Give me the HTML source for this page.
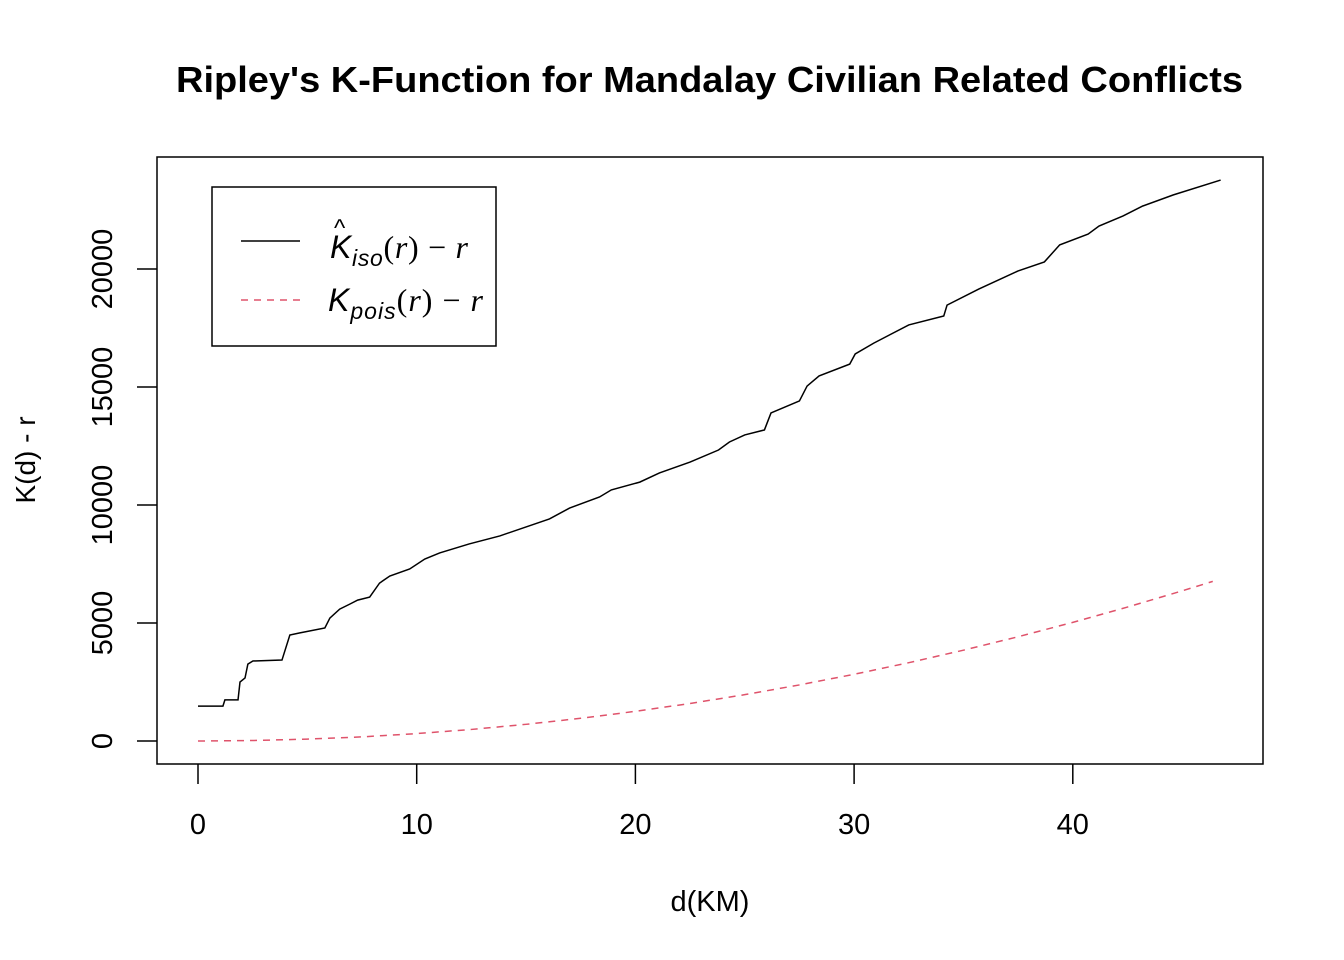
<!DOCTYPE html>
<html><head><meta charset="utf-8"><style>
body{margin:0;background:#fff;}
svg{display:block;font-family:"Liberation Sans",Arial,sans-serif;}
</style></head><body>
<svg id="chart" width="1344" height="960" viewBox="0 0 1344 960">
<text x="176" y="92" font-size="36" font-weight="bold" textLength="1067" lengthAdjust="spacingAndGlyphs">Ripley's K-Function for Mandalay Civilian Related Conflicts</text>
<rect x="157" y="157" width="1106" height="607" fill="none" stroke="#000" stroke-width="1.5"/>
<g id="xaxis"></g>
<g id="yaxis"></g>
<text x="710" y="911" text-anchor="middle" font-size="29">d(KM)</text>
<text transform="translate(35,460) rotate(-90)" text-anchor="middle" font-size="28">K(d) - r</text>
<g id="series"></g>
<g>
<rect x="212" y="187" width="284" height="159" fill="#fff" stroke="#000" stroke-width="1.5"/>
<line x1="241" y1="241" x2="300" y2="241" stroke="#000" stroke-width="1.5"/>
<line x1="241" y1="300" x2="300" y2="300" stroke="#DF536B" stroke-width="1.5" stroke-dasharray="7,6"/>
<text x="330" y="258" font-size="32" font-family="Liberation Serif,serif" textLength="138" lengthAdjust="spacing"><tspan font-style="italic" font-family="Liberation Sans,sans-serif">K</tspan><tspan font-size="23" dy="8" font-style="italic" font-family="Liberation Sans,sans-serif">iso</tspan><tspan dy="-8">(</tspan><tspan font-style="italic">r</tspan><tspan>) − </tspan><tspan font-style="italic">r</tspan></text>
<text x="334" y="236" font-size="24">^</text>
<text x="328" y="311" font-size="32" font-family="Liberation Serif,serif" textLength="155" lengthAdjust="spacing"><tspan font-style="italic" font-family="Liberation Sans,sans-serif">K</tspan><tspan font-size="23" dy="8" font-style="italic" font-family="Liberation Sans,sans-serif">pois</tspan><tspan dy="-8">(</tspan><tspan font-style="italic">r</tspan><tspan>) − </tspan><tspan font-style="italic">r</tspan></text>
</g>
</svg>
<script>
const xTicks=[0,10,20,30,40];
const yTicks=[0,5000,10000,15000,20000];
const isoR=[0,1.14,1.23,1.83,1.92,2.15,2.28,2.51,3.84,4.2,4.66,5.8,6.03,6.48,6.94,7.3,7.85,8.3,8.77,9.68,10.37,11.05,12.4,13.8,16.07,16.99,18.36,18.9,20.2,21.1,22.5,23.8,24.3,25.0,25.9,26.2,27.5,27.85,28.4,29.8,30.05,30.9,32.5,34.1,34.25,35.7,37.5,38.7,39.4,40.7,41.2,42.3,43.2,44.6,46.76];
const isoK=[1480,1480,1740,1740,2500,2670,3260,3390,3430,4490,4580,4790,5210,5590,5800,5970,6100,6690,6990,7290,7710,7970,8350,8690,9410,9870,10340,10640,10970,11360,11820,12330,12670,12970,13180,13900,14410,15040,15470,15970,16400,16860,17630,18010,18470,19150,19920,20300,21020,21480,21820,22250,22670,23140,23770];
const poisR=[0,2.5,5,7.5,10,12.5,15,17.5,20,22.5,25,27.5,30,32.5,35,37.5,40,42.5,45,46.4];
const poisK=[0,20,80,175,314,490,707,962,1257,1590,1963,2376,2827,3318,3848,4418,5027,5675,6362,6764];
const NS='http://www.w3.org/2000/svg';
const sx=v=>198+v*21.87;
const sy=v=>741-v*0.0236;
function mk(t,a,p){const e=document.createElementNS(NS,t);for(const k in a)e.setAttribute(k,a[k]);p.appendChild(e);return e;}
const xa=document.getElementById('xaxis');
xTicks.forEach(v=>{
 const l=mk('line',{x1:sx(v),x2:sx(v),y1:764,y2:784,stroke:'#000','stroke-width':1.5},xa);
 
 
 const t=mk('text',{x:sx(v),y:834,'text-anchor':'middle','font-size':29},xa);
 t.textContent=v;
 
 
});
const ya=document.getElementById('yaxis');
yTicks.forEach(v=>{
 const l=mk('line',{x1:137,x2:157,y1:sy(v),y2:sy(v),stroke:'#000','stroke-width':1.5},ya);
 
 
 const t=mk('text',{transform:`translate(112,${sy(v)}) rotate(-90)`,'text-anchor':'middle','font-size':29},ya);
 t.textContent=v;
 
 
});
const s=document.getElementById('series');
const iso=mk('polyline',{points:isoR.map((r,i)=>sx(r)+','+sy(isoK[i])).join(' '),fill:'none',stroke:'#000','stroke-width':1.5},s);


const pois=mk('polyline',{points:poisR.map((r,i)=>sx(r)+','+sy(poisK[i])).join(' '),fill:'none',stroke:'#DF536B','stroke-width':1.5,'stroke-dasharray':'7,6'},s);


</script>
</body></html>
